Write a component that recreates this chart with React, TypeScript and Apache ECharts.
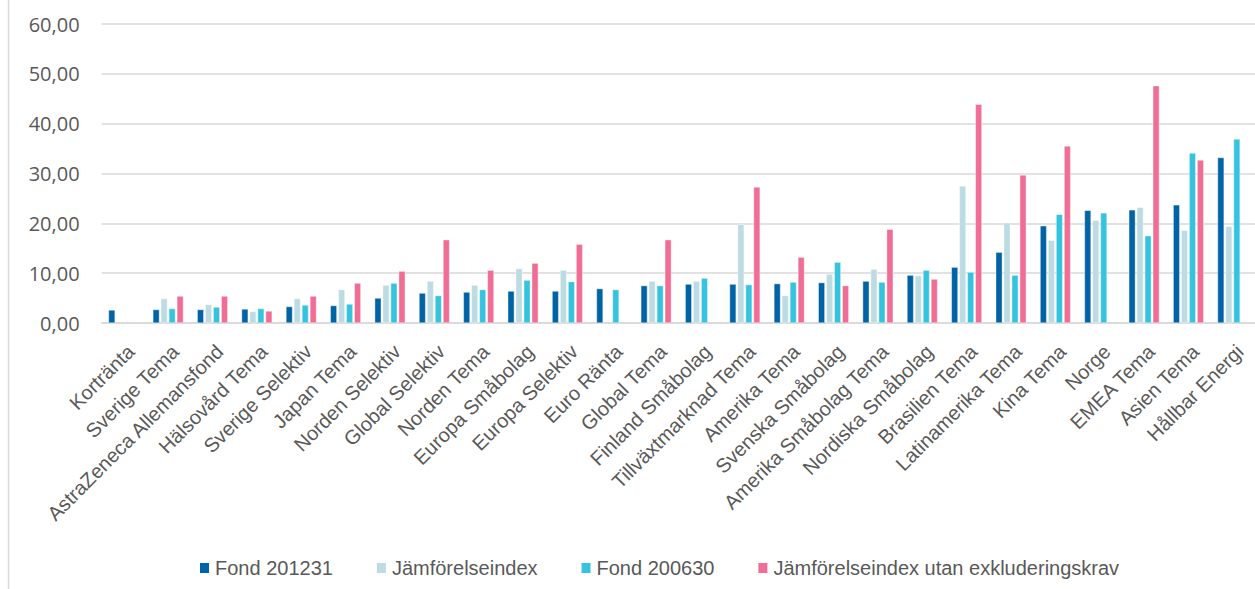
import React, { useEffect, useRef } from "react";
import * as echarts from "echarts";

const categories = [
  "Kortränta", "Sverige Tema", "AstraZeneca Allemansfond", "Hälsovård Tema", "Sverige Selektiv",
  "Japan Tema", "Norden Selektiv", "Global Selektiv", "Norden Tema", "Europa Småbolag",
  "Europa Selektiv", "Euro Ränta", "Global Tema", "Finland Småbolag", "Tillväxtmarknad Tema",
  "Amerika Tema", "Svenska Småbolag", "Amerika Småbolag Tema", "Nordiska Småbolag", "Brasilien Tema",
  "Latinamerika Tema", "Kina Tema", "Norge", "EMEA Tema", "Asien Tema", "Hållbar Energi",
];

const fond201231 = [2.6, 2.7, 2.7, 2.8, 3.3, 3.5, 5.0, 6.0, 6.2, 6.4, 6.4, 6.9, 7.5, 7.8, 7.8, 7.9, 8.1, 8.4, 9.6, 11.2, 14.2, 19.5, 22.6, 22.7, 23.7, 33.2];
const jamforelseindex = [null, 4.9, 3.7, 2.3, 4.9, 6.7, 7.6, 8.4, 7.6, 10.9, 10.6, null, 8.4, 8.4, 19.8, 5.5, 9.8, 10.8, 9.5, 27.5, 20.1, 16.6, 20.6, 23.2, 18.6, 19.4];
const fond200630 = [null, 2.9, 3.2, 2.9, 3.6, 3.8, 8.0, 5.5, 6.7, 8.6, 8.3, 6.7, 7.5, 9.0, 7.7, 8.2, 12.2, 8.2, 10.6, 10.2, 9.6, 21.8, 22.1, 17.5, 34.1, 36.9];
const jamforelseUtanKrav = [null, 5.4, 5.4, 2.4, 5.4, 8.0, 10.4, 16.7, 10.6, 12.0, 15.8, null, 16.7, null, 27.3, 13.2, 7.5, 18.8, 8.8, 43.9, 29.7, 35.5, null, 47.6, 32.7, null];

const seriesNames = ["Fond 201231", "Jämförelseindex", "Fond 200630", "Jämförelseindex utan exkluderingskrav"];
const seriesColors = ["#0063A6", "#BCDBE2", "#36C3E0", "#F06E96"];

export default function App() {
  const ref = useRef<HTMLDivElement>(null);
  useEffect(() => {
    document.body.style.margin = "0";
    const chart = echarts.init(ref.current!, undefined, { renderer: "svg" });
    const dataSets = [fond201231, jamforelseindex, fond200630, jamforelseUtanKrav];
    chart.setOption({
      animation: false,
      backgroundColor: "#ffffff",
      grid: { left: 101.6, right: -9, top: 24, bottom: 266, containLabel: false },
      legend: {
        left: 193,
        top: 553,
        itemWidth: 11,
        itemHeight: 12,
        itemGap: 42,
        icon: "rect",
        textStyle: { fontFamily: "Liberation Sans", fontSize: 20, color: "#595959" },
        data: seriesNames,
      },
      xAxis: {
        type: "category",
        data: categories,
        axisTick: { show: false },
        axisLine: { show: true, lineStyle: { color: "#d9d9d9", width: 1.5 } },
        axisLabel: {
          rotate: 45,
          interval: 0,
          margin: 18,
          align: "right",
          verticalAlign: "top",
          fontFamily: "Liberation Sans",
          fontSize: 20,
          color: "#595959",
        },
      },
      yAxis: {
        type: "value",
        min: 0,
        max: 60,
        interval: 10,
        axisLine: { show: false },
        axisTick: { show: false },
        splitLine: { lineStyle: { color: "#d9d9d9", width: 1.5 } },
        axisLabel: {
          margin: 22,
          fontFamily: "Open Sans",
          fontSize: 20,
          color: "#595959",
          formatter: (v: number) => v.toFixed(2).replace(".", ","),
        },
      },
      series: dataSets.map((d, i) => ({
        name: seriesNames[i],
        type: "bar",
        data: d,
        barWidth: 6.5,
        barGap: "23%",
        itemStyle: { color: seriesColors[i], borderColor: "#ffffff", borderWidth: 0.4 },
      })),
      graphic: [
        {
          type: "line",
          shape: { x1: 8.5, y1: 0, x2: 8.5, y2: 589 },
          style: { stroke: "#d9d9d9", lineWidth: 1.5 },
        },
      ],
    });
    return () => chart.dispose();
  }, []);
  return <div ref={ref} style={{ width: 1255, height: 589 }} />;
}
